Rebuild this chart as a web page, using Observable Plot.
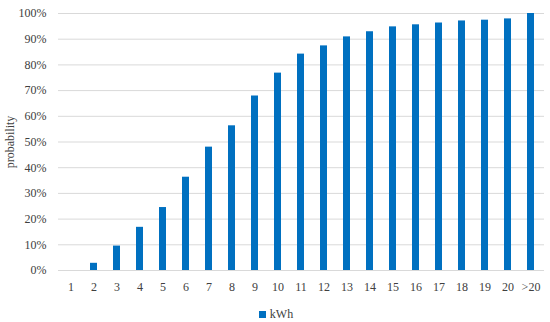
<!DOCTYPE html>
<html>
<head>
<meta charset="utf-8">
<script src="https://cdn.jsdelivr.net/npm/d3@7"></script>
<script src="https://cdn.jsdelivr.net/npm/@observablehq/plot@0.6"></script>
<style>
  body { margin: 0; background: #fff; font-family: "Liberation Serif", serif; }
  #legend { height: 22px; display: flex; justify-content: center; align-items: center; font-size: 12px; color: #404040; padding-left: 2px; padding-top: 3px; }
  #legend .sw { width: 7px; height: 7px; background: #0070c0; margin-right: 4px; }
</style>
</head>
<body>
<div id="chart"></div>
<div id="legend"><span class="sw"></span><span>kWh</span></div>
<script>
const categories = ["1","2","3","4","5","6","7","8","9","10","11","12","13","14","15","16","17","18","19","20",">20"];
const probability = [0, 0.028, 0.095, 0.168, 0.245, 0.363, 0.480, 0.563, 0.679, 0.768, 0.842, 0.874, 0.909, 0.929, 0.948, 0.956, 0.963, 0.971, 0.974, 0.979, 1.0];
const yTicks = [0, 0.1, 0.2, 0.3, 0.4, 0.5, 0.6, 0.7, 0.8, 0.9, 1.0];
const data = categories.map((c, i) => ({ c, v: probability[i] }));

const chart = Plot.plot({
  width: 550,
  height: 300,
  marginLeft: 58,
  marginRight: 6,
  marginTop: 13,
  marginBottom: 30,
  style: { fontFamily: "Liberation Serif, serif", fontSize: "12px", color: "#404040", background: "#fff" },
  x: { domain: categories, paddingInner: 0.685, paddingOuter: 0.3425, label: null },
  y: { domain: [0, 1], label: null },
  marks: [
    Plot.gridY(yTicks, { stroke: "#d9d9d9", strokeOpacity: 1, strokeWidth: 1 }),
    Plot.barY(data, { x: "c", y: "v", fill: "#0070c0" }),
    Plot.axisX({ tickSize: 0, tickPadding: 12, label: null }),
    Plot.axisY(yTicks, { tickSize: 0, tickPadding: 12, tickFormat: d => Math.round(d * 100) + "%", label: "probability", labelAnchor: "center", labelArrow: "none", labelOffset: 53 })
  ]
});
document.getElementById("chart").appendChild(chart);
</script>
</body>
</html>
